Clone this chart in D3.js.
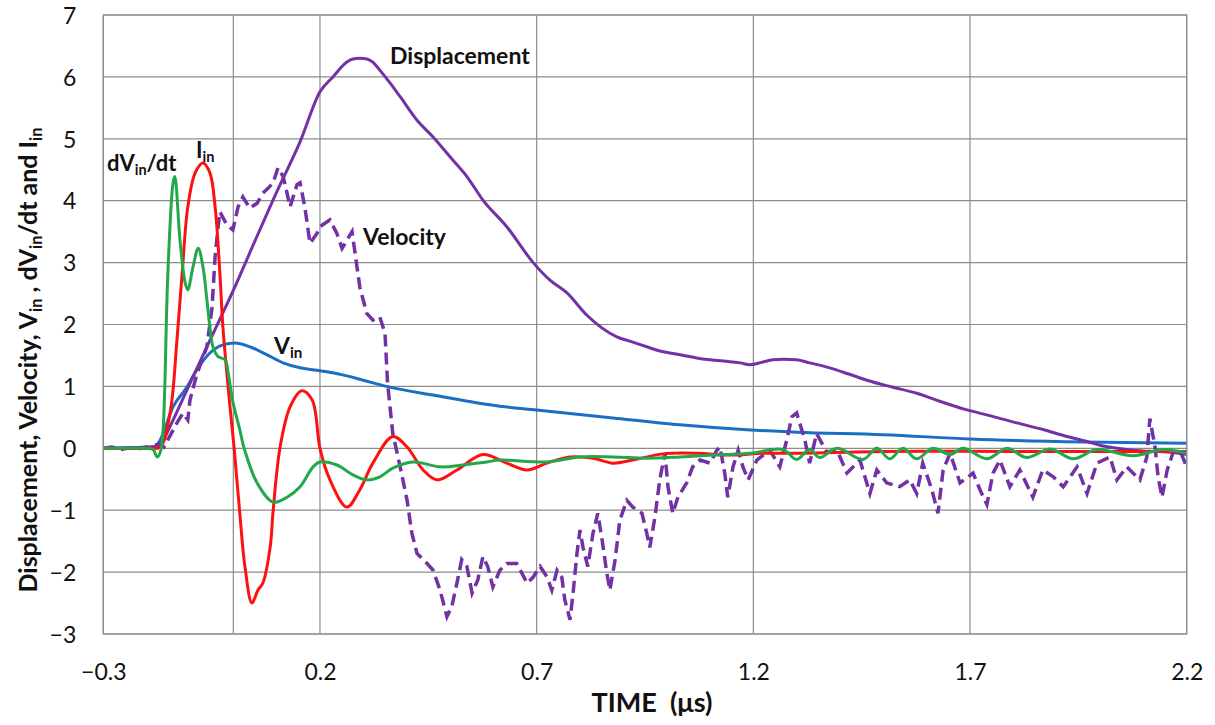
<!DOCTYPE html>
<html><head><meta charset="utf-8">
<script src="https://cdn.jsdelivr.net/npm/d3@7"></script>
<style>
body{margin:0;background:#fff;}
text{font-family:Lato,"Open Sans",sans-serif;}
</style></head>
<body>
<svg id="chart" width="1215" height="725"></svg>
<script>
// ---------- data (time in µs) ----------
const xTicks = [-0.3, 0.2, 0.7, 1.2, 1.7, 2.2];
const yTicks = [-3, -2, -1, 0, 1, 2, 3, 4, 5, 6, 7];

const dispT = [-0.3,-0.2,-0.18,-0.165,-0.153,-0.1,-0.061,0.0,0.05,0.1,0.154,0.2,0.23,0.262,0.276,0.292,0.308,0.322,0.338,0.362,0.385,0.424,0.461,0.506,0.539,0.576,0.631,0.692,0.73,0.77,0.816,0.885,0.92,0.954,0.98,1.007,1.04,1.069,1.1,1.146,1.17,1.192,1.22,1.245,1.27,1.3,1.33,1.376,1.42,1.462,1.52,1.577,1.63,1.693,1.75,1.808,1.87,1.924,1.97,2.0,2.04,2.076,2.12,2.155,2.2];
const dispV = [0,0.02,0.03,0.08,0.25,1.05,1.64,2.55,3.35,4.14,4.95,5.76,6.0,6.24,6.29,6.30,6.29,6.24,6.11,5.9,5.68,5.3,5.03,4.66,4.39,4.01,3.58,3.0,2.72,2.51,2.15,1.8,1.72,1.64,1.58,1.54,1.5,1.46,1.43,1.4,1.38,1.35,1.39,1.43,1.44,1.43,1.38,1.3,1.2,1.10,0.99,0.89,0.76,0.62,0.52,0.41,0.3,0.19,0.11,0.05,0.0,-0.03,-0.05,-0.06,-0.1];

const velT = [-0.3,-0.28,-0.26,-0.24,-0.22,-0.2,-0.19,-0.18,-0.17,-0.16,-0.15,-0.13,-0.116,-0.105,-0.1,-0.084,-0.061,-0.049,-0.042,-0.035,-0.031,-0.015,-0.001,0.011,0.022,0.038,0.055,0.068,0.08,0.092,0.103,0.115,0.124,0.131,0.147,0.154,0.165,0.177,0.193,0.2,0.223,0.239,0.251,0.262,0.274,0.281,0.292,0.308,0.322,0.338,0.35,0.356,0.368,0.385,0.401,0.412,0.424,0.447,0.461,0.477,0.493,0.504,0.516,0.527,0.539,0.551,0.564,0.576,0.587,0.599,0.615,0.631,0.654,0.678,0.692,0.708,0.724,0.735,0.747,0.758,0.765,0.777,0.784,0.793,0.8,0.807,0.818,0.83,0.841,0.851,0.862,0.869,0.881,0.892,0.908,0.922,0.943,0.954,0.961,0.973,0.984,0.996,1.003,1.014,1.026,1.046,1.06,1.077,1.1,1.116,1.123,1.134,1.141,1.153,1.165,1.176,1.188,1.208,1.238,1.261,1.277,1.289,1.3,1.319,1.33,1.346,1.369,1.393,1.416,1.446,1.469,1.485,1.508,1.538,1.561,1.577,1.591,1.612,1.626,1.638,1.654,1.677,1.707,1.723,1.739,1.753,1.769,1.792,1.815,1.845,1.868,1.892,1.915,1.947,1.97,1.993,2.023,2.039,2.062,2.092,2.108,2.115,2.127,2.134,2.143,2.155,2.168,2.184,2.2];
const velV = [0,0.02,-0.02,0.01,-0.01,0.02,0,0.05,0.08,0.02,0.15,0.41,0.57,0.46,0.78,1.2,1.64,2.28,3.1,3.58,3.82,3.61,3.53,3.9,4.06,3.88,3.96,4.12,4.2,4.29,4.53,4.39,4.12,3.9,4.26,4.29,3.9,3.31,3.47,3.58,3.69,3.47,3.23,3.36,3.5,3.15,2.6,2.18,2.07,2.12,1.86,1.05,0.24,-0.3,-0.84,-1.37,-1.7,-1.86,-1.97,-2.29,-2.72,-2.56,-2.18,-1.8,-1.91,-2.34,-2.13,-1.75,-1.91,-2.24,-1.97,-1.86,-1.86,-2.18,-2.08,-1.91,-2.08,-2.29,-1.97,-2.08,-2.45,-2.77,-2.34,-1.7,-1.32,-1.6,-1.91,-1.37,-1.05,-1.48,-2.02,-2.29,-1.8,-1.16,-0.84,-0.95,-1.05,-1.37,-1.6,-1.11,-0.51,-0.08,-0.62,-1.05,-0.79,-0.56,-0.3,-0.19,-0.24,-0.03,0.02,-0.4,-0.79,-0.3,-0.03,-0.3,-0.51,-0.19,-0.03,-0.3,0.13,0.51,0.57,0.13,-0.24,0.24,-0.06,-0.03,-0.4,-0.19,-0.73,-0.35,-0.56,-0.62,-0.51,-0.73,-0.24,-0.67,-1.05,-0.35,-0.08,-0.56,-0.4,-0.67,-0.91,-0.4,-0.19,-0.62,-0.35,-0.79,-0.35,-0.46,-0.62,-0.3,-0.73,-0.24,-0.14,-0.51,-0.3,-0.51,-0.14,0.48,0.02,-0.46,-0.79,-0.35,-0.08,-0.03,-0.3];

const vinT = [-0.3,-0.2,-0.181,-0.169,-0.139,-0.107,-0.084,-0.054,-0.024,0.004,0.038,0.078,0.115,0.154,0.193,0.25,0.3,0.354,0.461,0.615,0.7,0.876,1.03,1.185,1.3,1.499,1.7,1.961,2.2];
const vinV = [0,0,0.02,0.13,0.67,0.99,1.27,1.54,1.67,1.70,1.64,1.51,1.38,1.3,1.26,1.19,1.1,1.0,0.86,0.68,0.62,0.49,0.38,0.30,0.26,0.22,0.15,0.10,0.08];

const dvdtT = [-0.3,-0.2,-0.185,-0.176,-0.168,-0.162,-0.151,-0.139,-0.135,-0.123,-0.111,-0.105,-0.093,-0.081,-0.07,-0.061,-0.054,-0.047,-0.035,-0.019,-0.012,-0.001,0.015,0.025,0.055,0.092,0.124,0.154,0.184,0.2,0.239,0.276,0.308,0.338,0.368,0.415,0.477,0.53,0.585,0.615,0.724,0.8,0.876,0.954,1.03,1.107,1.192,1.268,1.3,1.33,1.353,1.393,1.453,1.485,1.515,1.545,1.577,1.614,1.654,1.684,1.739,1.785,1.831,1.885,1.938,1.993,2.076,2.145,2.2];
const dvdtV = [0,0,-0.02,-0.14,-0.05,0.3,2.83,4.29,4.39,3.36,2.67,2.56,2.93,3.23,2.93,2.4,1.96,1.64,1.48,1.43,1.22,0.75,0.3,0.0,-0.56,-0.87,-0.79,-0.62,-0.3,-0.22,-0.27,-0.43,-0.51,-0.46,-0.32,-0.22,-0.3,-0.27,-0.22,-0.19,-0.22,-0.14,-0.14,-0.16,-0.14,-0.11,-0.08,-0.02,-0.18,-0.02,-0.15,0.0,-0.18,0.0,-0.17,0.0,-0.17,0.0,-0.1,0.0,-0.17,0.0,-0.15,-0.01,-0.17,-0.02,-0.12,-0.02,-0.08];

const iinT = [-0.3,-0.2,-0.169,-0.146,-0.13,-0.118,-0.105,-0.088,-0.07,-0.054,-0.042,-0.031,-0.024,-0.015,-0.004,0.002,0.015,0.027,0.043,0.057,0.068,0.085,0.092,0.108,0.131,0.158,0.182,0.2,0.223,0.262,0.292,0.322,0.368,0.401,0.438,0.47,0.516,0.576,0.631,0.678,0.724,0.777,0.83,0.876,0.922,0.991,1.069,1.146,1.222,1.3,1.5,1.8,2.2];
const iinV = [0,0,0.02,0.57,1.75,2.83,3.9,4.45,4.61,4.45,3.9,2.83,1.96,1.22,0.41,0.0,-1.05,-1.92,-2.5,-2.29,-2.18,-1.6,-1.0,0.02,0.67,0.93,0.78,0.0,-0.51,-0.95,-0.67,-0.24,0.19,0.02,-0.35,-0.51,-0.35,-0.1,-0.24,-0.35,-0.24,-0.14,-0.16,-0.24,-0.19,-0.09,-0.08,-0.11,-0.08,-0.08,-0.05,-0.05,-0.05];

// ---------- layout ----------
const svg = d3.select("#chart");
const L = 103.3, R = 1186.7, T = 15, B = 634;
const x = d3.scaleLinear().domain([-0.3, 2.2]).range([L, R]);
const y = d3.scaleLinear().domain([-3, 7]).range([B, T]);
const gridColor = "#8c8c8c";

svg.append("g").selectAll("line").data(yTicks).join("line")
  .attr("x1", L).attr("x2", R).attr("y1", d => y(d)).attr("y2", d => y(d))
  .attr("stroke", gridColor).attr("stroke-width", 1.2);
svg.append("g").selectAll("line").data(xTicks).join("line")
  .attr("x1", d => x(d)).attr("x2", d => x(d)).attr("y1", T).attr("y2", B)
  .attr("stroke", gridColor).attr("stroke-width", 1.2);
svg.append("line").attr("x1", x(0)).attr("x2", x(0)).attr("y1", T).attr("y2", B)
  .attr("stroke", gridColor).attr("stroke-width", 1.2);

const xAxis = svg.append("g").attr("transform", `translate(0,${B})`)
  .call(d3.axisBottom(x).tickValues(xTicks).tickSize(0).tickPadding(0).tickFormat(d3.format(".1f")));
xAxis.select(".domain").remove();
xAxis.selectAll("text").attr("y", 46).attr("dy", null)
  .style("font-size", "23px").style("font-family", "Lato").attr("fill", "#111");

const yAxis = svg.append("g").attr("transform", `translate(${L},0)`)
  .call(d3.axisLeft(y).tickValues(yTicks).tickSize(0).tickPadding(27).tickFormat(d3.format("d")));
yAxis.select(".domain").remove();
yAxis.selectAll("text").attr("dy", "0.36em")
  .style("font-size", "23px").style("font-family", "Lato").attr("fill", "#111");

// ---------- series ----------
const zip = (t, v) => t.map((d, i) => [d, v[i]]);
const smooth = d3.line().x(d => x(d[0])).y(d => y(d[1])).curve(d3.curveCatmullRom.alpha(0.5));
const mono = d3.line().x(d => x(d[0])).y(d => y(d[1])).curve(d3.curveMonotoneX);
const straight = d3.line().x(d => x(d[0])).y(d => y(d[1]));

const plot = svg.append("g");
plot.append("path").datum(zip(vinT, vinV)).attr("d", mono)
  .attr("fill", "none").attr("stroke", "#1a6fc4").attr("stroke-width", 3);
plot.append("path").datum(zip(dispT, dispV)).attr("d", mono)
  .attr("fill", "none").attr("stroke", "#7232a6").attr("stroke-width", 3);
plot.append("path").datum(zip(velT, velV)).attr("d", straight)
  .attr("fill", "none").attr("stroke", "#7232a6").attr("stroke-width", 3.5)
  .attr("stroke-dasharray", "12,6");
plot.append("path").datum(zip(iinT, iinV)).attr("d", smooth)
  .attr("fill", "none").attr("stroke", "#ff1010").attr("stroke-width", 3);
plot.append("path").datum(zip(dvdtT, dvdtV)).attr("d", smooth)
  .attr("fill", "none").attr("stroke", "#22a84a").attr("stroke-width", 3);

svg.append("rect").attr("x", L).attr("y", T).attr("width", R - L).attr("height", B - T)
  .attr("fill", "none").attr("stroke", gridColor).attr("stroke-width", 1.2);

// ---------- annotations ----------
function label(px, py, main, sub, rest, size) {
  const t = svg.append("text").attr("x", px).attr("y", py)
    .style("font-weight", "bold").style("font-size", size + "px").attr("fill", "#111");
  t.append("tspan").text(main);
  if (sub) {
    t.append("tspan").text(sub).style("font-size", (size * 0.66) + "px").attr("dy", size * 0.18);
    if (rest) t.append("tspan").text(rest).attr("dy", -size * 0.18);
  }
  return t;
}
label(390, 64, "Displacement", null, null, 23);
label(363, 245, "Velocity", null, null, 23);
label(274, 354, "V", "in", null, 23);
label(107, 171, "dV", "in", "/dt", 22);
label(196, 158, "I", "in", null, 22);

svg.append("text").attr("x", 652).attr("y", 712).attr("text-anchor", "middle")
  .attr("xml:space", "preserve").style("white-space", "pre")
  .style("font-weight", "bold").style("font-size", "27px").attr("fill", "#111")
  .text("TIME  (\u03bcs)");

const ys = 25;
const yt = svg.append("text").attr("transform", "translate(37,360) rotate(-90)")
  .attr("text-anchor", "middle").style("font-weight", "bold").style("font-size", ys + "px").attr("fill", "#111");
yt.append("tspan").text("Displacement, Velocity, V");
yt.append("tspan").text("in").style("font-size", (ys * 0.66) + "px").attr("dy", ys * 0.18);
yt.append("tspan").text(" , dV").attr("dy", -ys * 0.18);
yt.append("tspan").text("in").style("font-size", (ys * 0.66) + "px").attr("dy", ys * 0.18);
yt.append("tspan").text("/dt and I").attr("dy", -ys * 0.18);
yt.append("tspan").text("in").style("font-size", (ys * 0.66) + "px").attr("dy", ys * 0.18);
</script>
</body></html>
